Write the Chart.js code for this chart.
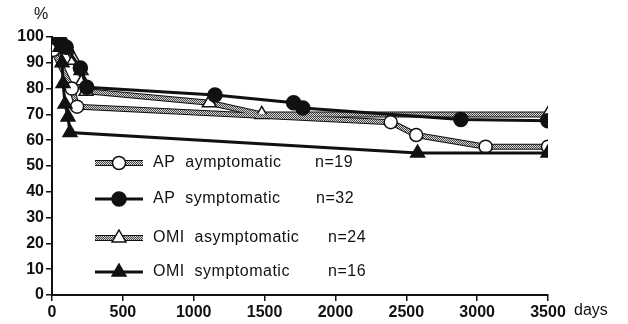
<!DOCTYPE html>
<html>
<head>
<meta charset="utf-8">
<script src="https://cdn.jsdelivr.net/npm/chart.js@4/dist/chart.umd.min.js"></script>
<style>
  body { margin: 0; background: #fff; }
</style>
</head>
<body>
<canvas id="survChart" width="628" height="324"></canvas>
<script>
// values (days, % event-free)
const apAsymDays = [0, 8, 140, 177, 2390, 2570, 3060, 3500];
const apAsymVals = [100, 95, 80, 73, 67, 62, 57.5, 57.5];

const apSympDays = [0, 60, 100, 200, 245, 1150, 1705, 1770, 2885, 3500];
const apSympVals = [100, 98, 96, 88, 80.5, 77.5, 74.5, 72.5, 68, 67.5];

const omiAsymDays = [0, 105, 155, 205, 215, 240, 1110, 1480, 3500];
const omiAsymVals = [100, 96, 91, 87, 83, 79, 74.5, 70, 70];

const omiSympDays = [0, 57, 71, 78, 92, 113, 127, 2580, 3500];
const omiSympVals = [100, 96, 90, 82, 74, 69, 63, 55, 55];

const legendNames = ['AP  aymptomatic', 'AP  symptomatic', 'OMI  asymptomatic', 'OMI  symptomatic'];
const legendN = ['n=19', 'n=32', 'n=24', 'n=16'];

function pts(xs, ys) {
    return xs.map((x, i) => ({ x: x, y: ys[i] }));
}

// grainy grey texture for the asymptomatic lines
const pc = document.createElement('canvas');
pc.width = 2; pc.height = 2;
const pctx = pc.getContext('2d');
pctx.fillStyle = '#d8d8d8'; pctx.fillRect(0, 0, 2, 2);
pctx.fillStyle = '#444'; pctx.fillRect(0, 0, 1, 1); pctx.fillRect(1, 1, 1, 1);
const ctx = document.getElementById('survChart').getContext('2d');
const grey = ctx.createPattern(pc, 'repeat');

const styles = [
    { border: grey, fill: '#fff', style: 'circle', r: 6.5, width: 4 },
    { border: '#111', fill: '#111', style: 'circle', r: 7, width: 3 },
    { border: grey, fill: '#fff', style: 'triangle', r: 8, width: 4 },
    { border: '#111', fill: '#111', style: 'triangle', r: 8, width: 3 }
];

function outline(data) {
    return { data: data, borderColor: '#111', borderWidth: 6, pointRadius: 0, tension: 0, order: 5 };
}
function series(data, s, ord) {
    return {
        data: data,
        borderColor: s.border,
        borderWidth: s.width,
        pointStyle: s.style,
        pointRadius: s.r,
        pointBackgroundColor: s.fill,
        pointBorderColor: '#111',
        pointBorderWidth: 1.5,
        tension: 0,
        order: ord
    };
}

const extras = {
    id: 'extras',
    afterDraw(chart) {
        const c = chart.ctx;
        c.save();
        c.fillStyle = '#111';
        c.font = '16px "Liberation Sans", Arial, sans-serif';
        c.textBaseline = 'middle';
        c.fillText('%', 34, 15);
        c.fillText('days', 574, 311);

        const rows = [163, 199, 238, 272];
        const nx = [315, 316, 328, 328];
        rows.forEach((y, i) => {
            const s = styles[i];
            if (s.border === grey) {
                c.strokeStyle = '#111'; c.lineWidth = 6;
                c.beginPath(); c.moveTo(95, y); c.lineTo(143, y); c.stroke();
            }
            c.strokeStyle = s.border; c.lineWidth = s.width;
            c.beginPath(); c.moveTo(95, y); c.lineTo(143, y); c.stroke();
            c.fillStyle = s.fill; c.strokeStyle = '#111'; c.lineWidth = 1.5;
            c.beginPath();
            if (s.style === 'circle') {
                c.arc(119, y, s.r, 0, Math.PI * 2);
            } else {
                const r = s.r;
                c.moveTo(119, y - r);
                c.lineTo(119 + r * 0.866, y + r * 0.5);
                c.lineTo(119 - r * 0.866, y + r * 0.5);
                c.closePath();
            }
            c.fill(); c.stroke();
            c.fillStyle = '#111';
            c.letterSpacing = '0.5px';
            c.fillText(legendNames[i], 153, y);
            c.fillText(legendN[i], nx[i], y);
        });
        c.restore();
    }
};

new Chart(ctx, {
    type: 'line',
    data: {
        datasets: [
            outline(pts(apAsymDays, apAsymVals)),
            outline(pts(omiAsymDays, omiAsymVals)),
            series(pts(apAsymDays, apAsymVals), styles[0], 3),
            series(pts(omiAsymDays, omiAsymVals), styles[2], 4),
            series(pts(apSympDays, apSympVals), styles[1], 2),
            series(pts(omiSympDays, omiSympVals), styles[3], 1)
        ]
    },
    options: {
        responsive: false,
        animation: false,
        layout: { padding: { top: 37, right: 80, left: 0, bottom: 0 } },
        plugins: { legend: { display: false }, tooltip: { enabled: false } },
        scales: {
            x: {
                type: 'linear',
                min: 0, max: 3500,
                ticks: { stepSize: 500, color: '#111', padding: 2, maxRotation: 0,
                         callback: v => String(v),
                         font: { family: '"Liberation Sans", Arial', size: 16, weight: 'bold' } },
                grid: { drawOnChartArea: false, color: '#111', tickLength: 6, lineWidth: 1.5 },
                border: { color: '#111', width: 2 },
                afterFit(scale) { scale.height = 29; }
            },
            y: {
                min: 0, max: 100,
                ticks: { stepSize: 10, color: '#111', padding: 2,
                         font: { family: '"Liberation Sans", Arial', size: 16, weight: 'bold' } },
                grid: { drawOnChartArea: false, color: '#111', tickLength: 6, lineWidth: 1.5 },
                border: { color: '#111', width: 2 },
                afterFit(scale) { scale.width = 52; }
            }
        }
    },
    plugins: [extras]
});
</script>
</body>
</html>
